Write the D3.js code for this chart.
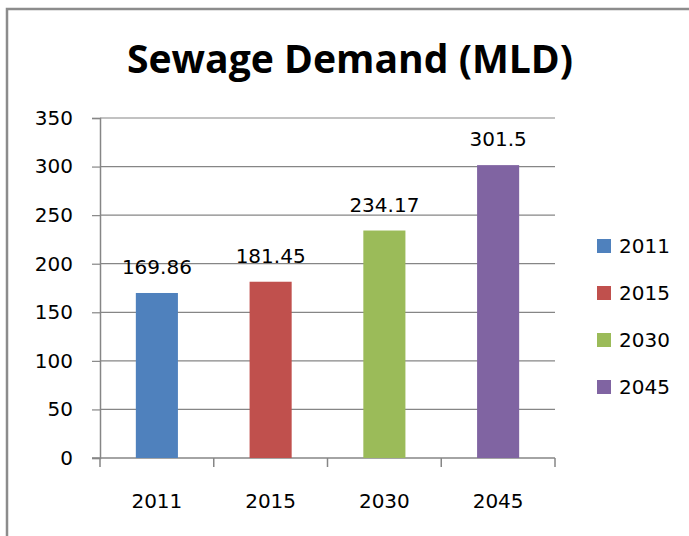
<!DOCTYPE html>
<html>
<head>
<meta charset="utf-8">
<script src="https://cdn.jsdelivr.net/npm/d3@7"></script>
<style>
  body { margin: 0; background: #fff; }
  text { font-family: "DejaVu Sans", sans-serif; fill: #000; }
</style>
</head>
<body>
<div id="viz"></div>
<script>
// data
const years = ["2011", "2015", "2030", "2045"];
const demand = [169.86, 181.45, 234.17, 301.5];
const labels = ["169.86", "181.45", "234.17", "301.5"];
const colours = ["#4F81BD", "#C0504D", "#9BBB59", "#8064A2"];
const yTicks = [0, 50, 100, 150, 200, 250, 300, 350];

const svg = d3.select("#viz")
  .append("svg")
  .attr("width", 689)
  .attr("height", 536);

// outer chart frame (cut off at the right and bottom edge)
svg.append("rect")
  .attr("x", 7).attr("y", 9)
  .attr("width", 720).attr("height", 600)
  .attr("fill", "none")
  .attr("stroke", "#8c8c8c")
  .attr("stroke-width", 2.5);

// title
svg.append("text")
  .attr("x", 350).attr("y", 73)
  .attr("text-anchor", "middle")
  .style("font-family", "'Open Sans', sans-serif")
  .style("font-weight", "bold")
  .style("font-size", "40px")
  .attr("textLength", 446)
  .attr("lengthAdjust", "spacingAndGlyphs")
  .text("Sewage Demand (MLD)");

const plotL = 100, plotR = 555, plotT = 118, plotB = 458;
const fs = "20px";

const x = d3.scaleBand().domain(years).range([plotL, plotR]).paddingInner(0.63).paddingOuter(0.315);
const xTicks = d3.scaleBand().domain(years).range([plotL, plotR]);
const y = d3.scaleLinear().domain([0, 350]).range([plotB, plotT]);

// gridlines
svg.append("g")
  .selectAll("line")
  .data(yTicks.filter(d => d > 0))
  .join("line")
  .attr("x1", plotL).attr("x2", plotR)
  .attr("y1", d => y(d)).attr("y2", d => y(d))
  .attr("stroke", "#868686")
  .attr("stroke-width", 1.2);

// y axis
const yAxis = svg.append("g")
  .attr("transform", `translate(${plotL},0)`)
  .call(d3.axisLeft(y).tickValues(yTicks).tickSize(8).tickPadding(19));
yAxis.select(".domain").attr("stroke", "#868686").attr("stroke-width", 1.5);
yAxis.selectAll(".tick line").attr("stroke", "#868686").attr("stroke-width", 1.2);
yAxis.selectAll("text").style("font-size", fs).style("font-family", "'DejaVu Sans', sans-serif").attr("fill", "#000");

// x axis: ticks at band boundaries
const xAxis = svg.append("g").attr("transform", `translate(0,${plotB})`);
xAxis.append("line")
  .attr("x1", plotL - 8).attr("x2", plotR)
  .attr("stroke", "#868686").attr("stroke-width", 1.5);
xAxis.selectAll("line.tk")
  .data(years.concat(["end"]))
  .join("line")
  .attr("class", "tk")
  .attr("x1", (d, i) => i < years.length ? xTicks(d) : plotR)
  .attr("x2", (d, i) => i < years.length ? xTicks(d) : plotR)
  .attr("y1", 0).attr("y2", 9)
  .attr("stroke", "#868686").attr("stroke-width", 1.5);
xAxis.selectAll("text")
  .data(years)
  .join("text")
  .attr("x", d => x(d) + x.bandwidth() / 2)
  .attr("y", 50)
  .attr("text-anchor", "middle")
  .style("font-size", fs)
  .text(d => d);

// bars
svg.append("g")
  .selectAll("rect")
  .data(years)
  .join("rect")
  .attr("x", d => x(d))
  .attr("y", (d, i) => y(demand[i]))
  .attr("width", x.bandwidth())
  .attr("height", (d, i) => plotB - y(demand[i]))
  .attr("fill", (d, i) => colours[i]);

// value labels
svg.append("g")
  .selectAll("text")
  .data(years)
  .join("text")
  .attr("x", d => x(d) + x.bandwidth() / 2)
  .attr("y", (d, i) => y(demand[i]) - 19)
  .attr("text-anchor", "middle")
  .style("font-size", fs)
  .text((d, i) => labels[i]);

// legend
const legend = svg.append("g")
  .selectAll("g")
  .data(years)
  .join("g")
  .attr("transform", (d, i) => `translate(597,${239 + i * 47})`);
legend.append("rect")
  .attr("width", 14).attr("height", 14)
  .attr("fill", (d, i) => colours[i]);
legend.append("text")
  .attr("x", 22).attr("y", 14)
  .style("font-size", fs)
  .text(d => d);
</script>
</body>
</html>
